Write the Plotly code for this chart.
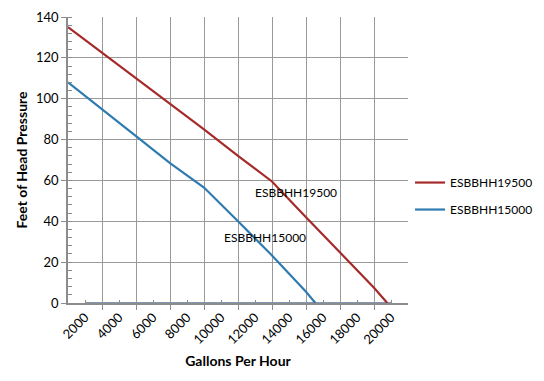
import plotly.graph_objects as go

# Data
gph_19500 = [1000, 3000, 5000, 7000, 9000, 11000, 13000, 15000, 17000, 19000, 19780]
head_19500 = [135, 122.5, 110, 97.5, 85, 72, 59.5, 42, 25, 7.5, 0]

gph_15000 = [1000, 3000, 5000, 7000, 9000, 11000, 13000, 15000, 15550]
head_15000 = [108, 95, 81.7, 68.5, 56.5, 40, 23.3, 5.5, 0]

base_gph = [2000, 4000, 6000, 8000, 10000, 12000, 14000, 16000, 18000, 20000]
base_head = [0, 0, 0, 0, 0, 0, 0, 0, 0, 0]

x_ticks = [2000, 4000, 6000, 8000, 10000, 12000, 14000, 16000, 18000, 20000]
x_tick_text = [str(v) for v in x_ticks]
y_ticks = [0, 20, 40, 60, 80, 100, 120, 140]

RED = "#A52A2A"
BLUE = "#2E7BB0"
FONT = "Lato"

fig = go.Figure()
fig.add_trace(go.Scatter(x=base_gph, y=base_head, mode="lines", showlegend=False,
                         line=dict(color="#8497B0", width=2), hoverinfo="skip"))
fig.add_trace(go.Scatter(x=gph_19500, y=head_19500, mode="lines", name="ESBBHH19500",
                         legendgroup="a", line=dict(color=RED, width=2.2)))
fig.add_trace(go.Scatter(x=gph_15000, y=head_15000, mode="lines", name="ESBBHH15000",
                         legendgroup="b", line=dict(color=BLUE, width=2.2)))

fig.add_annotation(x=14400, y=54, text="ESBBHH19500", showarrow=False,
                   font=dict(family=FONT, size=12, color="black"))
fig.add_annotation(x=12600, y=32, text="ESBBHH15000", showarrow=False,
                   font=dict(family=FONT, size=12, color="black"))

fig.update_layout(
    width=544, height=381,
    margin=dict(l=68, r=136, t=17, b=78, autoexpand=False),
    paper_bgcolor="white", plot_bgcolor="white",
    font=dict(family=FONT, size=13, color="black"),
    legend=dict(x=1.006, y=0.374, xanchor="left", yanchor="middle",
                traceorder="grouped", tracegroupgap=8,
                font=dict(family=FONT, size=12), bgcolor="rgba(0,0,0,0)"),
    xaxis=dict(
        range=[1000, 21000], tickmode="array", tickvals=x_ticks, ticktext=x_tick_text,
        tickangle=-45, showgrid=False, ticks="inside", ticklen=3, tickcolor="#8c8c8c",
        showline=True, linecolor="#8c8c8c", linewidth=1.5, zeroline=False,
        tickfont=dict(family=FONT, size=13), automargin=False,
        minor=dict(tick0=1000, dtick=2000, showgrid=True, gridcolor="#9a9a9a",
                   gridwidth=1.3, ticks="outside", ticklen=5, tickcolor="#8c8c8c"),
        title=dict(text="<b>Gallons Per Hour</b>", font=dict(family=FONT, size=14), standoff=10),
    ),
    yaxis=dict(
        range=[0, 140], tickmode="array", tickvals=y_ticks, showgrid=True,
        gridcolor="#9a9a9a", gridwidth=1.3, ticks="outside", ticklen=5, tickcolor="#8c8c8c",
        showline=True, linecolor="#8c8c8c", linewidth=1.5, zeroline=False,
        tickfont=dict(family=FONT, size=13), automargin=False,
        minor=dict(dtick=4, ticks="inside", ticklen=4, tickcolor="#8c8c8c", showgrid=False),
        title=dict(text="<b>Feet of Head Pressure</b>", font=dict(family=FONT, size=14), standoff=5),
    ),
)
fig.write_html("out.html", config={"displayModeBar": False},
               post_script="document.body.style.margin='0';")
